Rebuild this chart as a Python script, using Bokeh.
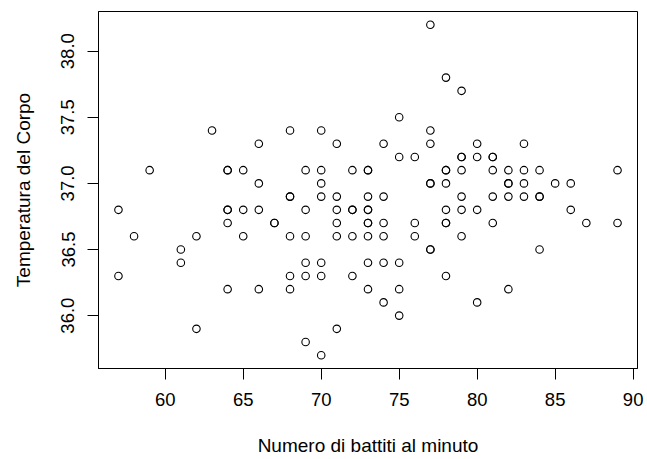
from bokeh.plotting import figure
from bokeh.models import Range1d, FixedTicker, PrintfTickFormatter, ColumnDataSource
from bokeh.embed import file_html
from bokeh.resources import INLINE

# Heart rate (beats per minute) and body temperature (°C), one pair per subject
battiti = [
    57, 57, 58, 59, 61, 61, 62, 62, 63,
    64, 64, 64, 64, 64, 64, 65, 65, 65, 66, 66, 66, 66, 67, 67,
    68, 68, 68, 68, 68, 68, 69, 69, 69, 69, 69, 69,
    70, 70, 70, 70, 70, 70, 70, 71, 71, 71, 71, 71, 71,
    72, 72, 72, 72, 72, 73, 73, 73, 73, 73, 73, 73, 73, 73, 73,
    74, 74, 74, 74, 74, 74, 75, 75, 75, 75, 75, 76, 76, 76,
    77, 77, 77, 77, 77, 77, 77, 78, 78, 78, 78, 78, 78, 78, 78,
    79, 79, 79, 79, 79, 79, 79, 80, 80, 80, 80,
    81, 81, 81, 81, 81, 82, 82, 82, 82, 82,
    83, 83, 83, 83, 84, 84, 84, 84, 85, 86, 86, 87, 89, 89,
]
temperatura = [
    36.8, 36.3, 36.6, 37.1, 36.5, 36.4, 36.6, 35.9, 37.4,
    37.1, 37.1, 36.8, 36.8, 36.7, 36.2, 37.1, 36.8, 36.6, 37.3, 37.0, 36.8, 36.2, 36.7, 36.7,
    37.4, 36.9, 36.9, 36.6, 36.3, 36.2, 37.1, 36.8, 36.6, 36.4, 36.3, 35.8,
    37.4, 37.1, 37.0, 36.9, 36.4, 36.3, 35.7, 37.3, 36.9, 36.8, 36.7, 36.6, 35.9,
    37.1, 36.8, 36.8, 36.6, 36.3, 37.1, 37.1, 36.9, 36.8, 36.8, 36.7, 36.7, 36.6, 36.4, 36.2,
    37.3, 36.9, 36.7, 36.6, 36.4, 36.1, 37.5, 37.2, 36.4, 36.2, 36.0, 37.2, 36.7, 36.6,
    38.2, 37.4, 37.3, 37.0, 37.0, 36.5, 36.5, 37.8, 37.1, 37.1, 37.0, 36.8, 36.7, 36.7, 36.3,
    37.7, 37.2, 37.2, 37.1, 36.9, 36.8, 36.6, 37.3, 37.2, 36.8, 36.1,
    37.2, 37.2, 37.1, 36.9, 36.7, 37.1, 37.0, 37.0, 36.9, 36.2,
    37.3, 37.1, 37.0, 36.9, 37.1, 36.9, 36.9, 36.5, 37.0, 37.0, 36.8, 36.7, 37.1, 36.7,
]

x_ticks = [60, 65, 70, 75, 80, 85, 90]
y_ticks = [36.0, 36.5, 37.0, 37.5, 38.0]

FONT = "Liberation Sans"
TICK_SIZE = "18.5px"
LABEL_SIZE = "19px"

src = ColumnDataSource(data=dict(battiti=battiti, temperatura=temperatura))

p = figure(
    width=647, height=459,
    output_backend="svg", toolbar_location=None,
    x_range=Range1d(55.72, 90.28), y_range=Range1d(35.6, 38.3),
    min_border_left=98, min_border_right=10, min_border_top=11, min_border_bottom=91,
)
p.background_fill_color = "white"
p.border_fill_color = "white"
p.outline_line_color = "black"
p.outline_line_width = 1
p.grid.visible = False

p.xaxis.ticker = FixedTicker(ticks=x_ticks)
p.yaxis.ticker = FixedTicker(ticks=y_ticks)
p.yaxis.formatter = PrintfTickFormatter(format="%.1f")
p.yaxis.major_label_orientation = "vertical"

p.xaxis.axis_label = "Numero di battiti al minuto"
p.yaxis.axis_label = "Temperatura del Corpo"

for ax in p.axis:
    ax.axis_line_color = "black"
    ax.major_tick_line_color = "black"
    ax.major_tick_in = 0
    ax.major_tick_out = 11
    ax.minor_tick_in = 0
    ax.minor_tick_out = 0
    ax.major_label_text_font = FONT
    ax.major_label_text_font_size = TICK_SIZE
    ax.major_label_text_color = "black"
    ax.axis_label_text_font = FONT
    ax.axis_label_text_font_size = LABEL_SIZE
    ax.axis_label_text_font_style = "normal"
    ax.axis_label_text_color = "black"

p.xaxis.major_label_standoff = 13
p.xaxis.axis_label_standoff = 26
p.yaxis.major_label_standoff = 13
p.yaxis.axis_label_standoff = 25

p.scatter(x="battiti", y="temperatura", source=src, marker="circle", size=7.5,
          fill_color=None, line_color="black", line_width=1.1)

open("out.html", "w").write(file_html(p, INLINE))
